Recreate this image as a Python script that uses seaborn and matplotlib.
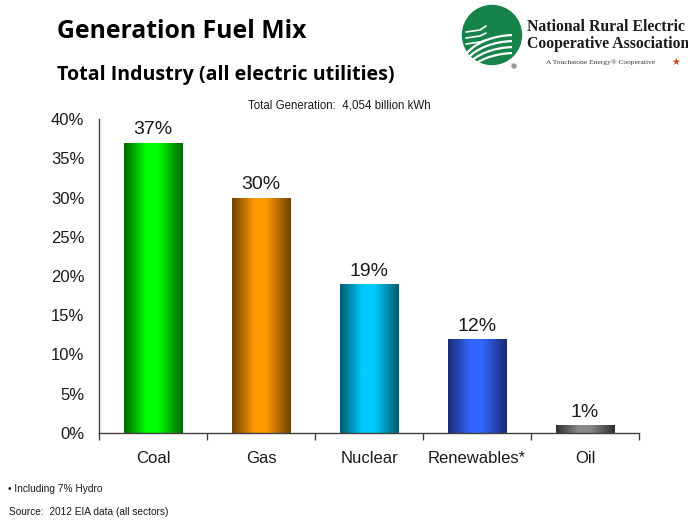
import numpy as np
import pandas as pd
import matplotlib
matplotlib.use("Agg")
import matplotlib.pyplot as plt
import seaborn as sns
from matplotlib.colors import LinearSegmentedColormap
from matplotlib.patches import Circle, Arc

fuels = ["Coal", "Gas", "Nuclear", "Renewables*", "Oil"]
shares = [37, 30, 19, 12, 1]
yticks = [0, 5, 10, 15, 20, 25, 30, 35, 40]
dark_colors = ["#006600", "#6e4200", "#005a6e", "#1a2a70", "#2e2e2e"]
bright_colors = ["#00ff00", "#ff9900", "#00ccff", "#3366ff", "#8a8a8a"]

title = "Generation Fuel Mix"
subtitle = "Total Industry (all electric utilities)"
total_note = "Total Generation:  4,054 billion kWh"
foot1 = "\u2022 Including 7% Hydro"
foot2 = "Source:  2012 EIA data (all sectors)"

sns.set_theme(style="white")
plt.rcParams["font.family"] = ["Liberation Sans", "DejaVu Sans"]

df = pd.DataFrame({"fuel": fuels, "share": shares})

fig = plt.figure(figsize=(6.88, 5.25), dpi=100)
W, H = 688, 525
ax = fig.add_axes([99 / W, 1 - 433 / H, 540 / W, (433 - 119) / H])

sns.barplot(data=df, x="fuel", y="share", ax=ax, width=0.54,
            color="#888888", edgecolor="none", saturation=1)

ax.set_xlim(-0.5, len(fuels) - 0.5)
ax.set_ylim(0, 40)

# gradient fill for each bar
grad = np.linspace(0, 1, 256).reshape(1, -1)
for patch, dc, bc in zip(ax.patches, dark_colors, bright_colors):
    cmap = LinearSegmentedColormap.from_list(
        "g", [(0, dc), (0.38, bc), (0.58, bc), (1.0, dc)])
    x0, y0 = patch.get_x(), patch.get_y()
    w, h = patch.get_width(), patch.get_height()
    im = ax.imshow(grad, cmap=cmap, aspect="auto",
                   extent=[x0, x0 + w, y0, y0 + h], zorder=2,
                   interpolation="bicubic")
    im.set_clip_path(patch)
    patch.set_facecolor("none")

ax.set_xlim(-0.5, len(fuels) - 0.5)
ax.set_ylim(0, 40)

for cont in ax.containers:
    ax.bar_label(cont, labels=[f"{v}%" for v in shares], padding=3,
                 fontsize=14, color="#1a1a1a")

ax.set_yticks(yticks)
ax.set_yticklabels([f"{v}%" for v in yticks], fontsize=12, color="#1a1a1a")
ax.tick_params(axis="y", length=0, pad=10.5)
ax.set_xticks(range(len(fuels)))
ax.set_xticklabels(fuels, fontsize=12, color="#1a1a1a")
ax.set_xticks(np.arange(-0.5, len(fuels)), minor=True)
ax.tick_params(axis="x", which="major", length=0, pad=13)
ax.tick_params(axis="x", which="minor", length=5, width=1, color="#404040",
               direction="out", bottom=True)
ax.set_xlabel("")
ax.set_ylabel("")
for s in ["top", "right"]:
    ax.spines[s].set_visible(False)
for s in ["left", "bottom"]:
    ax.spines[s].set_color("#404040")
    ax.spines[s].set_linewidth(1)

# titles and notes
fig.text(57 / W, 1 - 32 / H, title, fontsize=17.8, fontweight="bold",
         family=["Open Sans", "DejaVu Sans"], va="center", ha="left", color="black")
fig.text(57 / W, 1 - 75 / H, subtitle, fontsize=14.1, fontweight="bold",
         family=["Open Sans", "DejaVu Sans"], va="center", ha="left", color="black")
fig.text(248 / W, 1 - 105 / H, total_note, fontsize=8.3, va="center",
         ha="left", color="#1a1a1a")
fig.text(8 / W, 1 - 489 / H, foot1, fontsize=7.3, va="center", ha="left",
         color="#1a1a1a")
fig.text(9 / W, 1 - 512 / H, foot2, fontsize=7.3, va="center", ha="left",
         color="#1a1a1a")

# logo
lax = fig.add_axes([455 / W, 1 - 70 / H, 75 / W, 70 / H])
lax.set_xlim(455, 530)
lax.set_ylim(70, 0)
lax.set_aspect("equal")
lax.axis("off")
lax.add_patch(Circle((492, 35), 29.5, color="#15834a"))
for i, off in enumerate([0, 6, 12, 18]):
    lax.add_patch(Arc((515, 70 + off), 110, 70, theta1=200, theta2=265,
                      color="white", lw=1.6))
lax.plot([466, 480, 486], [32, 30, 26], color="white", lw=1.2)
lax.plot([466, 480, 486], [38, 36, 33], color="white", lw=1.2)
lax.plot([466, 480, 486], [44, 42, 40], color="white", lw=1.2)
lax.add_patch(Circle((514, 66), 2, color="#999999"))

fig.text(527 / W, 1 - 27 / H, "National Rural Electric", fontsize=11.3,
         fontweight="bold", family=["Liberation Serif"], va="center",
         ha="left", color="#1a1a1a")
fig.text(527 / W, 1 - 44 / H, "Cooperative Association", fontsize=11.3,
         fontweight="bold", family=["Liberation Serif"], va="center",
         ha="left", color="#1a1a1a")
fig.text(546 / W, 1 - 62 / H, "A Touchstone Energy\u00ae Cooperative",
         fontsize=5.4, family=["Liberation Serif"], va="center", ha="left",
         color="#333333")
fig.text(671 / W, 1 - 62 / H, "\u2605", fontsize=7, color="#d04020",
         family=["DejaVu Sans"], va="center", ha="left")

fig.savefig("out.png", dpi=100)
